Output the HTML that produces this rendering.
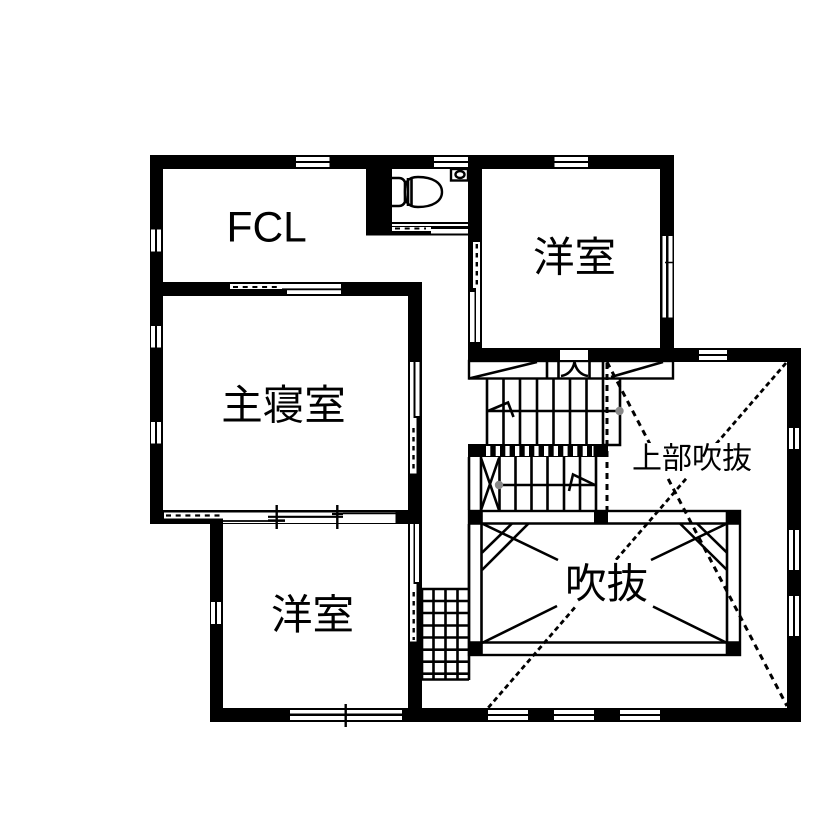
<!DOCTYPE html>
<html lang="ja">
<head>
<meta charset="utf-8">
<style>
html,body{margin:0;padding:0;background:#fff}
svg{display:block}
text{fill:#000}
.j{font-family:"Liberation Sans","Noto Sans CJK JP",sans-serif}
.w{fill:#fff;stroke:none}
.k{fill:#000;stroke:none}
.l{stroke:#000;stroke-width:2.6;fill:none}
.d{stroke:#000;stroke-width:3;fill:none;stroke-dasharray:6 5}
.t{stroke:#000;stroke-width:2.8;fill:none;stroke-dasharray:5 3.500}
</style>
</head>
<body>
<svg width="840" height="840" viewBox="0 0 840 840" xmlns="http://www.w3.org/2000/svg">
<rect width="840" height="840" fill="#fff"/>

<!-- stair box under wall -->
<rect x="469" y="361" width="204" height="17.5" fill="#fff" stroke="#000" stroke-width="2.400"/>
<path class="l" d="M469 378.500L537 362M547 362V378M558.500 362V378M589.500 362V378M603 362V378M611 377L663 362"/>
<path class="l" d="M561 376C568 375 573 370 574.500 362C576 370 581 375 588 376"/>
<!-- upper flight -->
<path class="l" d="M487 379V445M503.500 379V445M520 379V445M537 379V445M553.500 379V445M570 379V445M586.500 379V445M603 379V445M620 379V445H603M487 411H620"/>
<path class="l" d="M488 411L508 402.500L513.500 417"/>
<!-- lower flight -->
<path class="l" d="M469 457V510M481 457V510M499.500 457V510M515.500 457V510M531.500 457V510M547.500 457V510M564 457V510M580 457V510M596 457V510M499.500 485H596"/>
<path class="l" d="M481 458L499 510M499 458L481 510"/>
<path class="l" d="M595 485L573 474.500L569 491"/>

<!-- walls -->
<g class="k">
<rect x="150" y="155" width="524" height="14"/>
<rect x="150" y="155" width="13" height="369"/>
<rect x="150" y="282" width="271" height="14"/>
<rect x="408" y="282" width="14" height="440"/>
<rect x="150" y="510" width="271" height="14"/>
<rect x="210" y="510" width="13" height="212"/>
<rect x="210" y="708" width="591" height="14"/>
<rect x="787" y="348" width="14" height="374"/>
<rect x="468" y="348" width="333" height="14"/>
<rect x="468" y="155" width="14" height="205"/>
<rect x="660" y="155" width="14" height="205"/>
<rect x="366" y="155" width="26" height="80"/>
<rect x="366" y="222" width="102" height="13.500"/>
<rect x="468" y="444" width="140" height="13"/>
</g>

<!-- WC -->
<path class="l" d="M392 178H399C402 178 404 180 405 182V202C404 204 402 206 399 206H392"/>
<path d="M405 192C405 183 407 177 418 177C433 177 442 183 442 192C442 201 433 207 418 207C407 207 405 201 405 192Z" fill="#fff" stroke="#000" stroke-width="2.400"/>
<path class="l" d="M408 178V206M411.500 177.500V206.500"/>
<rect x="451" y="169" width="17" height="11.500" fill="#fff" stroke="#000" stroke-width="2.400"/>
<ellipse cx="460" cy="174.500" rx="4.500" ry="3.500" fill="#fff" stroke="#000" stroke-width="2.400"/>

<!-- horizontal windows -->
<g class="w">
<rect x="296" y="157" width="33.500" height="4"/><rect x="296" y="163" width="33.500" height="4"/>
<rect x="434" y="157" width="34" height="4"/><rect x="434" y="163" width="34" height="4"/>
<rect x="554.500" y="157" width="33.500" height="4"/><rect x="554.500" y="163" width="33.500" height="4"/>
<rect x="699" y="350" width="28" height="4"/><rect x="699" y="356" width="28" height="4"/>
<rect x="488" y="710" width="40" height="4"/><rect x="488" y="716" width="40" height="4"/>
<rect x="554" y="710" width="40" height="4"/><rect x="554" y="716" width="40" height="4"/>
<rect x="620" y="710" width="40" height="4"/><rect x="620" y="716" width="40" height="4"/>
<rect x="290" y="710" width="112" height="3.500"/><rect x="290" y="716" width="112" height="4"/>
<rect x="560" y="350" width="28" height="10"/>
<!-- vertical windows -->
<rect x="151" y="229.500" width="4" height="22"/><rect x="157" y="229.500" width="4" height="22"/>
<rect x="151" y="326" width="4" height="21.500"/><rect x="157" y="326" width="4" height="21.500"/>
<rect x="151" y="422" width="4" height="21.500"/><rect x="157" y="422" width="4" height="21.500"/>
<rect x="211" y="602" width="4" height="22"/><rect x="217" y="602" width="4" height="22"/>
<rect x="662.500" y="236" width="3.500" height="81.500"/><rect x="668.500" y="236" width="4" height="81.500"/>
<rect x="789" y="428" width="4" height="21"/><rect x="795" y="428" width="4" height="21"/>
<rect x="789" y="530" width="4" height="40"/><rect x="795" y="530" width="4" height="40"/>
<rect x="789" y="596" width="4" height="40"/><rect x="795" y="596" width="4" height="40"/>
<!-- sliding: master top -->
<rect x="230" y="284" width="111" height="5"/><rect x="287" y="290" width="54" height="4"/>
<!-- WC bottom -->
<rect x="392" y="224" width="76" height="2"/><rect x="392" y="227" width="39" height="4"/><rect x="431" y="229" width="37" height="4.500"/>
<!-- room right left wall -->
<rect x="470" y="292" width="4.500" height="50"/><rect x="476" y="288" width="4" height="54"/><rect x="473" y="242" width="7" height="46"/>
<!-- master right -->
<rect x="410" y="362" width="3.500" height="58"/><rect x="415.500" y="362" width="4" height="54"/><rect x="410" y="418" width="6.500" height="55.500"/>
<!-- lower room right -->
<rect x="410" y="524" width="3.500" height="60"/><rect x="415" y="524" width="4" height="58"/><rect x="410" y="584" width="6.500" height="57.500"/>
<!-- master bottom -->
<rect x="164" y="512.500" width="59" height="6"/><rect x="223" y="512.500" width="172.500" height="10.500"/>
</g>
<path d="M233 287H279" stroke="#000" stroke-width="2" stroke-dasharray="5 4.700"/>
<path d="M282 289.300H341" stroke="#000" stroke-width="1.800"/>
<path d="M395 228.500H426" stroke="#000" stroke-width="2" stroke-dasharray="5 4.700"/>
<path d="M431 228H468" stroke="#000" stroke-width="1.500"/>
<path d="M476.800 244V287" stroke="#000" stroke-width="2.400" stroke-dasharray="4.500 4.500"/>
<path d="M413.500 428V472" stroke="#000" stroke-width="2.400" stroke-dasharray="4.500 4.500"/>
<path d="M413.700 592V640" stroke="#000" stroke-width="2.400" stroke-dasharray="4.500 4.500"/>
<path d="M166 515.500H222" stroke="#000" stroke-width="2.200" stroke-dasharray="5 4.700"/>
<path d="M343 513.500H395.500" stroke="#000" stroke-width="1.400"/>
<path d="M332 514H343" stroke="#000" stroke-width="2.200"/>
<path d="M268 516.800H343" stroke="#000" stroke-width="2.200"/>
<path d="M223 521H285" stroke="#000" stroke-width="1.800"/>
<path d="M268 520.500H285" stroke="#000" stroke-width="2.200"/>
<path d="M665 262.500H673" stroke="#000" stroke-width="1.500"/>
<path d="M276.700 505V529M337.300 505V529M345.700 704V727" stroke="#000" stroke-width="2.400"/>
<path d="M340 715H352" stroke="#000" stroke-width="2"/>

<!-- tread slots -->
<g class="w">
<rect x="486" y="446" width="4.300" height="10"/><rect x="495.700" y="446" width="4.300" height="10"/><rect x="505.300" y="446" width="4.300" height="10"/><rect x="515" y="446" width="4.300" height="10"/><rect x="524.700" y="446" width="4.300" height="10"/><rect x="534.300" y="446" width="4.300" height="10"/><rect x="544" y="446" width="4.300" height="10"/><rect x="553.700" y="446" width="4.300" height="10"/><rect x="563.300" y="446" width="4.300" height="10"/><rect x="573" y="446" width="4.300" height="10"/><rect x="582.700" y="446" width="4.300" height="10"/><rect x="592" y="446" width="1.500" height="10"/>
</g>

<!-- void box -->
<rect x="469" y="511" width="271" height="144" fill="#fff" stroke="#000" stroke-width="2.400"/>
<path class="l" d="M481.500 511V655M727 511V655M469 523.500H740M469 642.500H740"/>
<g class="k">
<rect x="468" y="510" width="14" height="14"/>
<rect x="594" y="510" width="14" height="14"/>
<rect x="727" y="510" width="14" height="14"/>
<rect x="468" y="643" width="14" height="13"/>
<rect x="727" y="643" width="14" height="13"/>
</g>
<path class="l" d="M482 523.500L558 560M727 523.500L651 560M482 643L557 606M727 643L653 606.500"/>
<path class="l" d="M482 552.700L512 523.500M482 570L528.500 523.500M727 552.700L697 523.500M727 570L680 523.500"/>

<!-- tile grid -->
<path class="l" d="M422 589V680M433.500 589V680M445.500 589V680M457.500 589V680M469 524V680M422 589H469M422 601H469M422 613H469M422 625.500H469M422 637.500H469M422 649.700H469M422 661.700H469M422 673.700H469M422 679.500H469"/>

<!-- dashed lines -->
<path class="d" d="M607 363V510"/>
<path class="t" d="M786 363L488 708"/>
<path class="d" d="M607 362L787 706" stroke-width="2.800"/>

<!-- dots -->
<circle cx="619.500" cy="411" r="4.200" fill="#888"/>
<circle cx="499" cy="485" r="4.200" fill="#888"/>

<!-- label backgrounds -->
<rect x="632" y="443" width="121" height="34" fill="#fff"/>
<rect x="559" y="560" width="92" height="46" fill="#fff"/>

<!-- labels -->
<text x="226.500" y="241.500" font-family="Liberation Sans,sans-serif" font-size="42.500">FCL</text>
<text class="j" x="574.500" y="257" font-size="41.500" text-anchor="middle" dominant-baseline="central">洋室</text>
<text class="j" x="283.500" y="405" font-size="41.500" text-anchor="middle" dominant-baseline="central">主寝室</text>
<text class="j" x="312.500" y="614.500" font-size="41.500" text-anchor="middle" dominant-baseline="central">洋室</text>
<text class="j" x="606.500" y="583.500" font-size="41.500" text-anchor="middle" dominant-baseline="central">吹抜</text>
<text class="j" x="692" y="459" font-size="30" text-anchor="middle" dominant-baseline="central">上部吹抜</text>
</svg>
</body>
</html>
